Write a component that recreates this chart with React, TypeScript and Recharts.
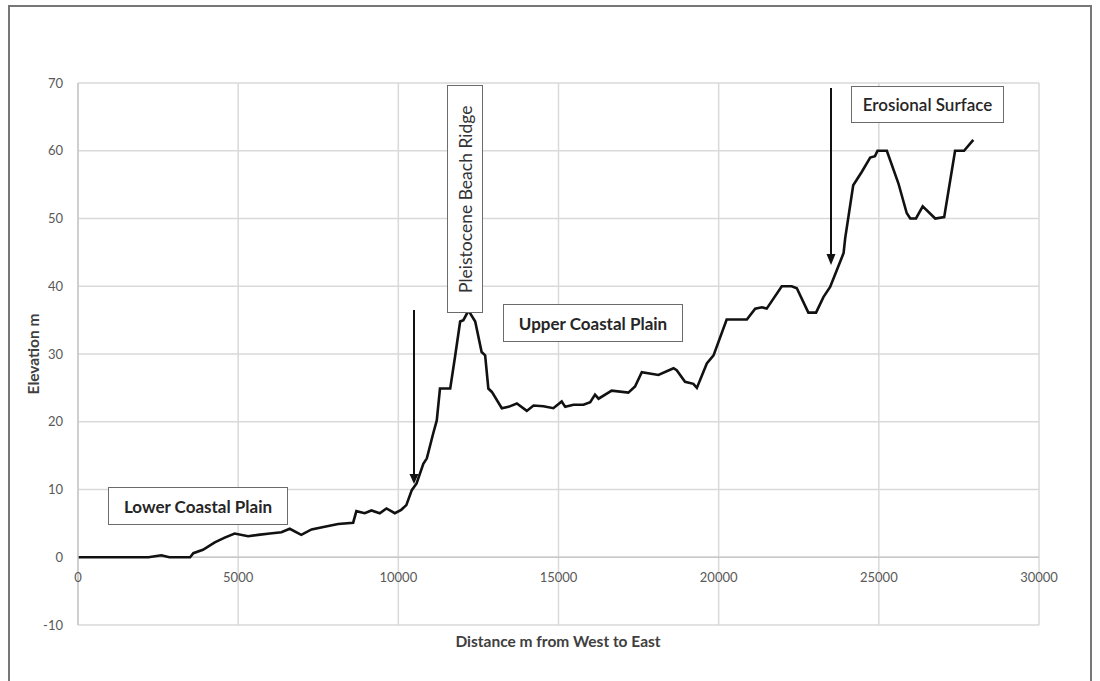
import React from 'react';
import { LineChart, Line, XAxis, YAxis, CartesianGrid, ReferenceLine } from 'recharts';

// distance (m) and elevation (m)
const distance = [
    0, 1500, 2200, 2600, 2850, 3500, 3600, 3900, 4270, 4580, 4890, 5310, 5620, 5990, 6350, 6610, 6970, 7290,
    7700, 8120, 8590, 8690, 8950, 9160, 9420, 9630, 9890, 10090, 10250, 10420, 10570, 10780, 10890, 11090,
    11200, 11300, 11620, 11770, 11930, 12030, 12190, 12400, 12600, 12710, 12810, 12920, 13230, 13440, 13700,
    14010, 14220, 14530, 14840, 15100, 15210, 15470, 15780, 15990, 16140, 16250, 16660, 17180, 17390, 17600,
    18120, 18590, 18690, 18950, 19210, 19320, 19630, 19840, 20250, 20880, 21140, 21350, 21500, 21970, 22280,
    22440, 22800, 23040, 23270, 23480, 23690, 23900, 23950, 24200, 24470, 24730, 24880, 24960, 25250, 25610,
    25870, 25980, 26160, 26370, 26760, 27040, 27380, 27660, 27950,
];
const elevation = [
    0, 0, 0, 0.3, 0, 0, 0.6, 1.1, 2.2, 2.9, 3.5, 3.1, 3.3, 3.5, 3.7, 4.2, 3.3, 4.1,
    4.5, 4.9, 5.1, 6.8, 6.5, 6.9, 6.5, 7.2, 6.5, 7.0, 7.7, 9.9, 10.9, 13.8, 14.6, 18.3,
    20.2, 24.9, 24.9, 29.6, 34.8, 35.0, 36.4, 34.8, 30.3, 29.8, 24.9, 24.4, 22.0, 22.2, 22.7,
    21.6, 22.4, 22.3, 22.0, 23.0, 22.2, 22.5, 22.5, 22.9, 24.0, 23.4, 24.6, 24.3, 25.2, 27.3,
    26.9, 27.9, 27.6, 25.9, 25.6, 25.0, 28.6, 29.8, 35.1, 35.1, 36.7, 36.9, 36.7, 40.0, 40.0,
    39.7, 36.1, 36.1, 38.4, 39.9, 42.4, 44.9, 47.1, 54.9, 56.9, 59.0, 59.2, 60.0, 60.0, 55.2,
    50.8, 50.0, 50.0, 51.8, 50.0, 50.2, 60.0, 60.0, 61.6,
];

const xTicks = [0, 5000, 10000, 15000, 20000, 25000, 30000];
const yTicks = [-10, 0, 10, 20, 30, 40, 50, 60, 70];

const data = distance.map((d, i) => ({ distance: d, elevation: elevation[i] }));

const font = 'Lato, "Open Sans", sans-serif';
const grid = '#d9d9d9';
const label = '#595959';

// x labels sit under the zero line, Excel style (axis is at -10, zero line is 68px higher)
const renderXTick = (props: any) => {
    const { x, payload } = props;
    return (
        <text x={x} y={582} textAnchor="middle" fill={label} fontSize={13} fontFamily={font}>
            {payload.value}
        </text>
    );
};

const boxStyle: React.CSSProperties = {
    position: 'absolute',
    border: '1.5px solid #6b6b6b',
    background: '#fff',
    color: '#262626',
    fontFamily: font,
    fontWeight: 700,
    fontSize: 17,
    display: 'flex',
    alignItems: 'center',
    justifyContent: 'center',
    boxSizing: 'border-box',
};

const titleStyle: React.CSSProperties = {
    position: 'absolute',
    whiteSpace: 'nowrap',
    fontFamily: font,
    fontWeight: 700,
    fontSize: 15.5,
    color: '#404040',
};

export default function App() {
    return (
        <div style={{ position: 'absolute', left: 0, top: 0, width: 1100, height: 681, background: '#fff', overflow: 'hidden' }}>
            <div style={{ position: 'absolute', left: 8, top: 5, width: 1084, height: 700, border: '2px solid #777', boxSizing: 'border-box' }} />
            <div style={{ position: 'absolute', left: 0, top: 0 }}>
                <LineChart width={1100} height={681} data={data} margin={{ top: 83, right: 61, bottom: 26, left: 18 }}>
                    <CartesianGrid stroke={grid} strokeWidth={1.5} />
                    <XAxis
                        dataKey="distance"
                        type="number"
                        domain={[0, 30000]}
                        ticks={xTicks}
                        axisLine={false}
                        tickLine={false}
                        height={30}
                        interval={0}
                        tick={renderXTick}
                    />
                    <YAxis
                        type="number"
                        domain={[-10, 70]}
                        ticks={yTicks}
                        width={60}
                        axisLine={{ stroke: '#c8c8c8', strokeWidth: 1.5 }}
                        tickLine={false}
                        tickMargin={9}
                        tick={{ fill: label, fontSize: 13, fontFamily: font }}
                    />
                    <ReferenceLine y={0} stroke="#c8c8c8" strokeWidth={1.5} />
                    <Line
                        type="linear"
                        dataKey="elevation"
                        stroke="#111"
                        strokeWidth={2.6}
                        dot={false}
                        isAnimationActive={false}
                    />
                </LineChart>
            </div>

            <svg width={1100} height={681} style={{ position: 'absolute', left: 0, top: 0, pointerEvents: 'none' }}>
                <line x1={414} y1={310} x2={414} y2={476} stroke="#111" strokeWidth={2} />
                <polygon points="409.5,474 418.5,474 414,484" fill="#111" />
                <line x1={831} y1={88} x2={831} y2={256} stroke="#111" strokeWidth={2} />
                <polygon points="826.5,254 835.5,254 831,265" fill="#111" />
            </svg>

            <div style={{ ...boxStyle, left: 108, top: 487, width: 180, height: 38 }}>Lower Coastal Plain</div>
            <div style={{ ...boxStyle, left: 503, top: 304, width: 180, height: 38 }}>Upper Coastal Plain</div>
            <div style={{ ...boxStyle, left: 851, top: 86, width: 153, height: 37, fontWeight: 600 }}>
                Erosional Surface
            </div>
            <div
                style={{
                    ...boxStyle,
                    left: 447,
                    top: 85,
                    width: 36,
                    height: 228,
                    fontWeight: 400,
                    fontSize: 17.5,
                    color: '#333',
                    writingMode: 'vertical-rl',
                    transform: 'rotate(180deg)',
                }}
            >
                Pleistocene Beach Ridge
            </div>

            <div style={{ ...titleStyle, left: 33, top: 354, transform: 'translate(-50%, -50%) rotate(-90deg)' }}>
                Elevation m
            </div>
            <div style={{ ...titleStyle, left: 558, top: 641, transform: 'translate(-50%, -50%)' }}>
                Distance m from West to East
            </div>
        </div>
    );
}
